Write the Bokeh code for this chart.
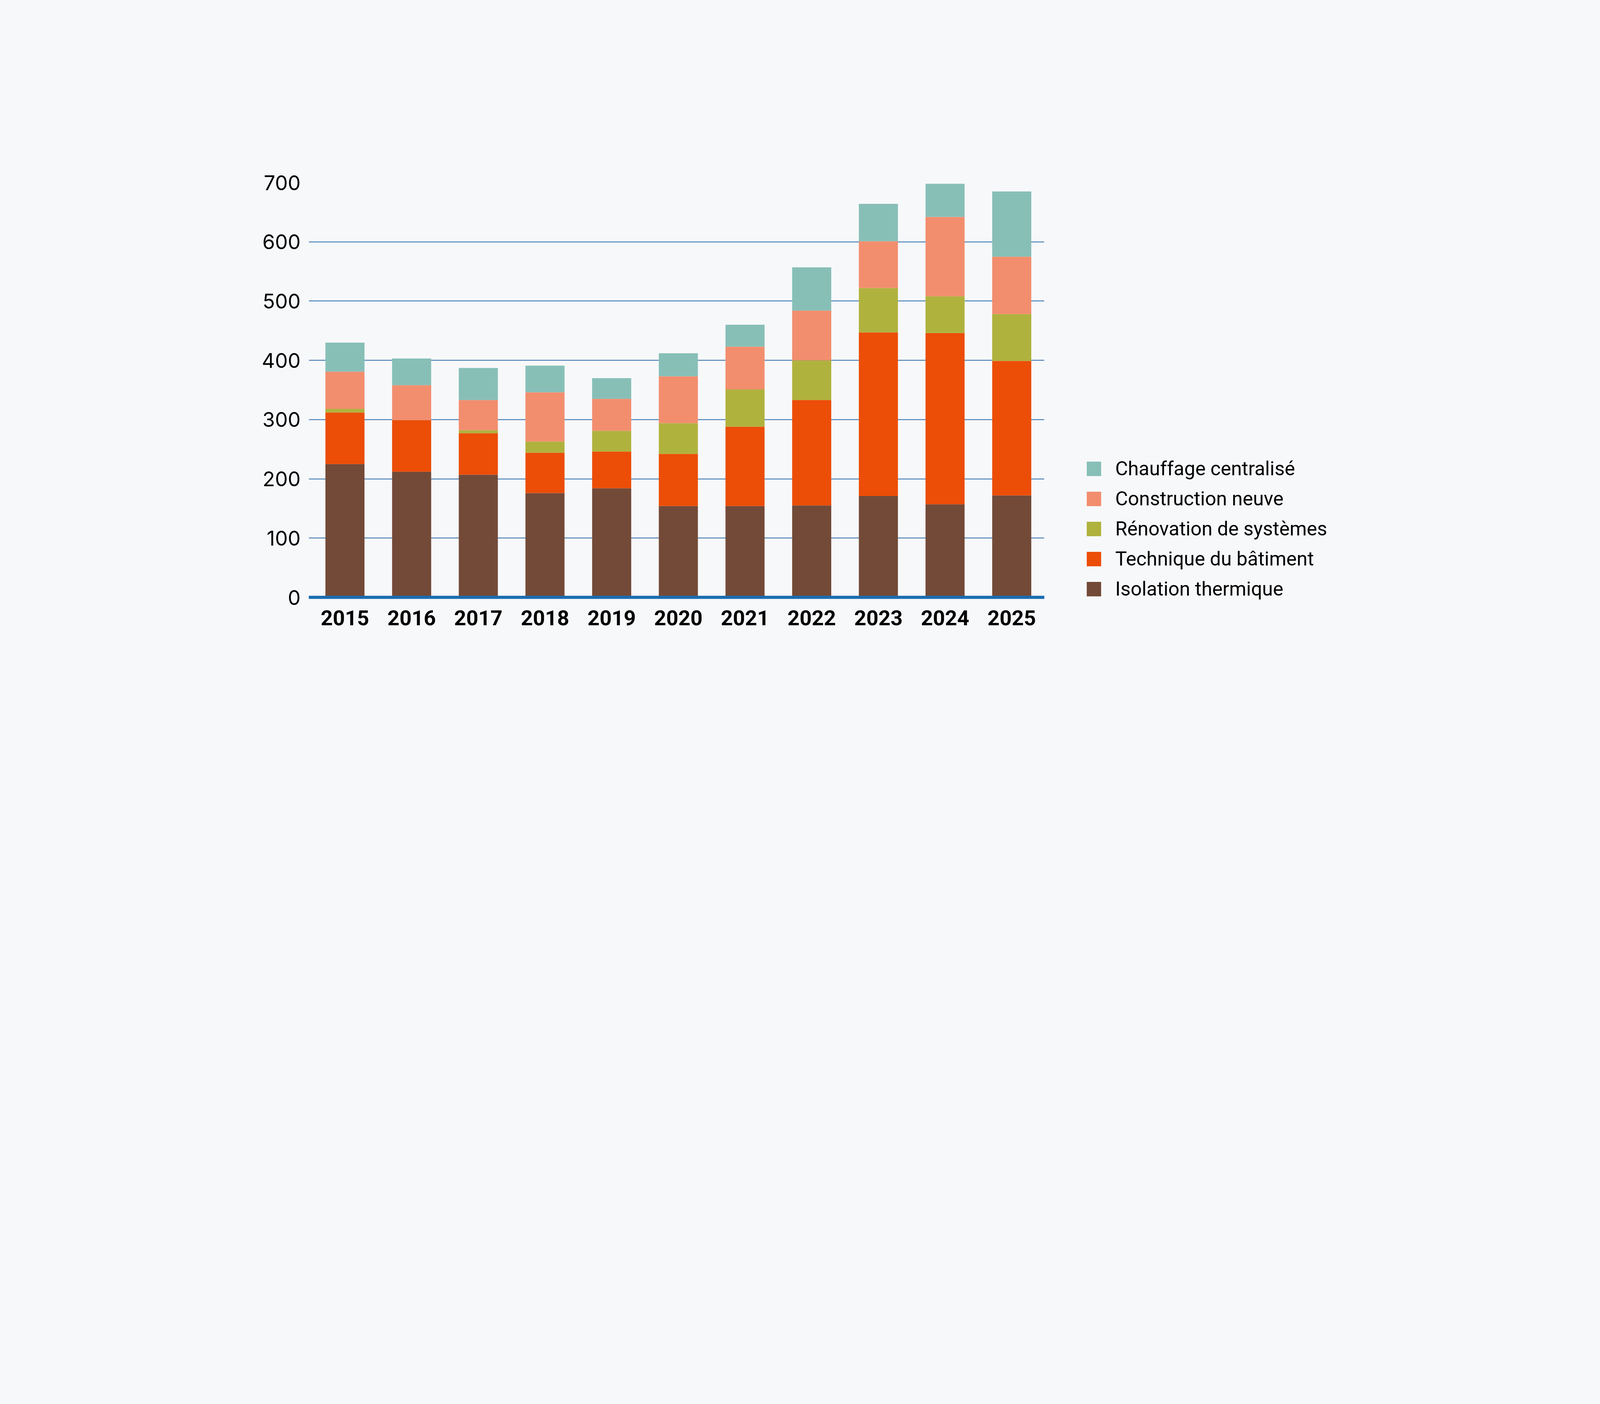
from bokeh.plotting import figure
from bokeh.models import Legend, LegendItem, Range1d, ColumnDataSource
from bokeh.embed import file_html
from bokeh.resources import INLINE

years = [2015, 2016, 2017, 2018, 2019, 2020, 2021, 2022, 2023, 2024, 2025]
isolation = [225, 212, 207, 176, 184, 154, 154, 155, 171, 157, 172]
technique = [87, 87, 70, 68, 62, 88, 134, 178, 276, 289, 227]
renovation = [6, 0, 5, 19, 35, 52, 63, 67, 75, 62, 79]
construction = [63, 59, 51, 83, 54, 79, 72, 84, 79, 134, 97]
chauffage = [49, 45, 54, 45, 35, 39, 37, 73, 63, 56, 110]

series = ["isolation", "technique", "renovation", "construction", "chauffage"]
labels = ["Isolation thermique", "Technique du bâtiment", "Rénovation de systèmes",
          "Construction neuve", "Chauffage centralisé"]
colors = ["#734a38", "#ec4d07", "#b0b23e", "#f28e6e", "#87bfb7"]
y_ticks = [0, 100, 200, 300, 400, 500, 600, 700]

source = ColumnDataSource(dict(years=years, isolation=isolation, technique=technique,
                               renovation=renovation, construction=construction,
                               chauffage=chauffage))

BG = "#f7f8fa"
p = figure(width=4098, height=2038,
           x_range=Range1d(years[0] - 0.5424, years[-1] + 0.4888), y_range=Range1d(0, 700),
           output_backend="svg", toolbar_location=None,
           min_border_left=790, min_border_right=1425, min_border_top=467, min_border_bottom=509)
p.background_fill_color = BG
p.border_fill_color = BG
p.outline_line_color = None

renderers = p.vbar_stack(series, x="years", width=0.586, source=source, color=colors,
                         line_color=None)

p.xgrid.grid_line_color = None
p.ygrid.grid_line_color = "#2a6aaa"
p.ygrid.grid_line_width = 2.2
p.yaxis.ticker = y_ticks
p.yaxis.axis_line_color = None
p.yaxis.major_tick_line_color = None
p.yaxis.minor_tick_line_color = None
p.yaxis.major_label_text_font = "Inter"
p.yaxis.major_label_text_font_size = "52px"
p.yaxis.major_label_text_color = "#000000"
p.yaxis.major_label_standoff = 15

p.xaxis.ticker = years
p.xaxis.axis_line_color = "#1a6cb0"
p.xaxis.axis_line_width = 8
p.xaxis.major_tick_line_color = None
p.xaxis.minor_tick_line_color = None
p.xaxis.major_label_text_font = "Roboto"
p.xaxis.major_label_text_font_style = "bold"
p.xaxis.major_label_text_font_size = "54px"
p.xaxis.major_label_text_color = "#000000"
p.xaxis.major_label_standoff = 27

items = [LegendItem(label=labels[i], renderers=[renderers[i]]) for i in reversed(range(5))]
legend = Legend(items=items, location=(104, -8), orientation="vertical",
                glyph_width=46, glyph_height=46, label_height=46, spacing=19,
                label_standoff=32, padding=0, margin=0,
                border_line_color=None, background_fill_alpha=0,
                label_text_font="Roboto", label_text_font_size="50px",
                label_text_color="#000000")
p.add_layout(legend, "right")

html = file_html(p, INLINE)
html = html.replace("<head>", "<head><style>body{background:#f7f8fa;}</style>", 1)
open("out.html", "w").write(html)
